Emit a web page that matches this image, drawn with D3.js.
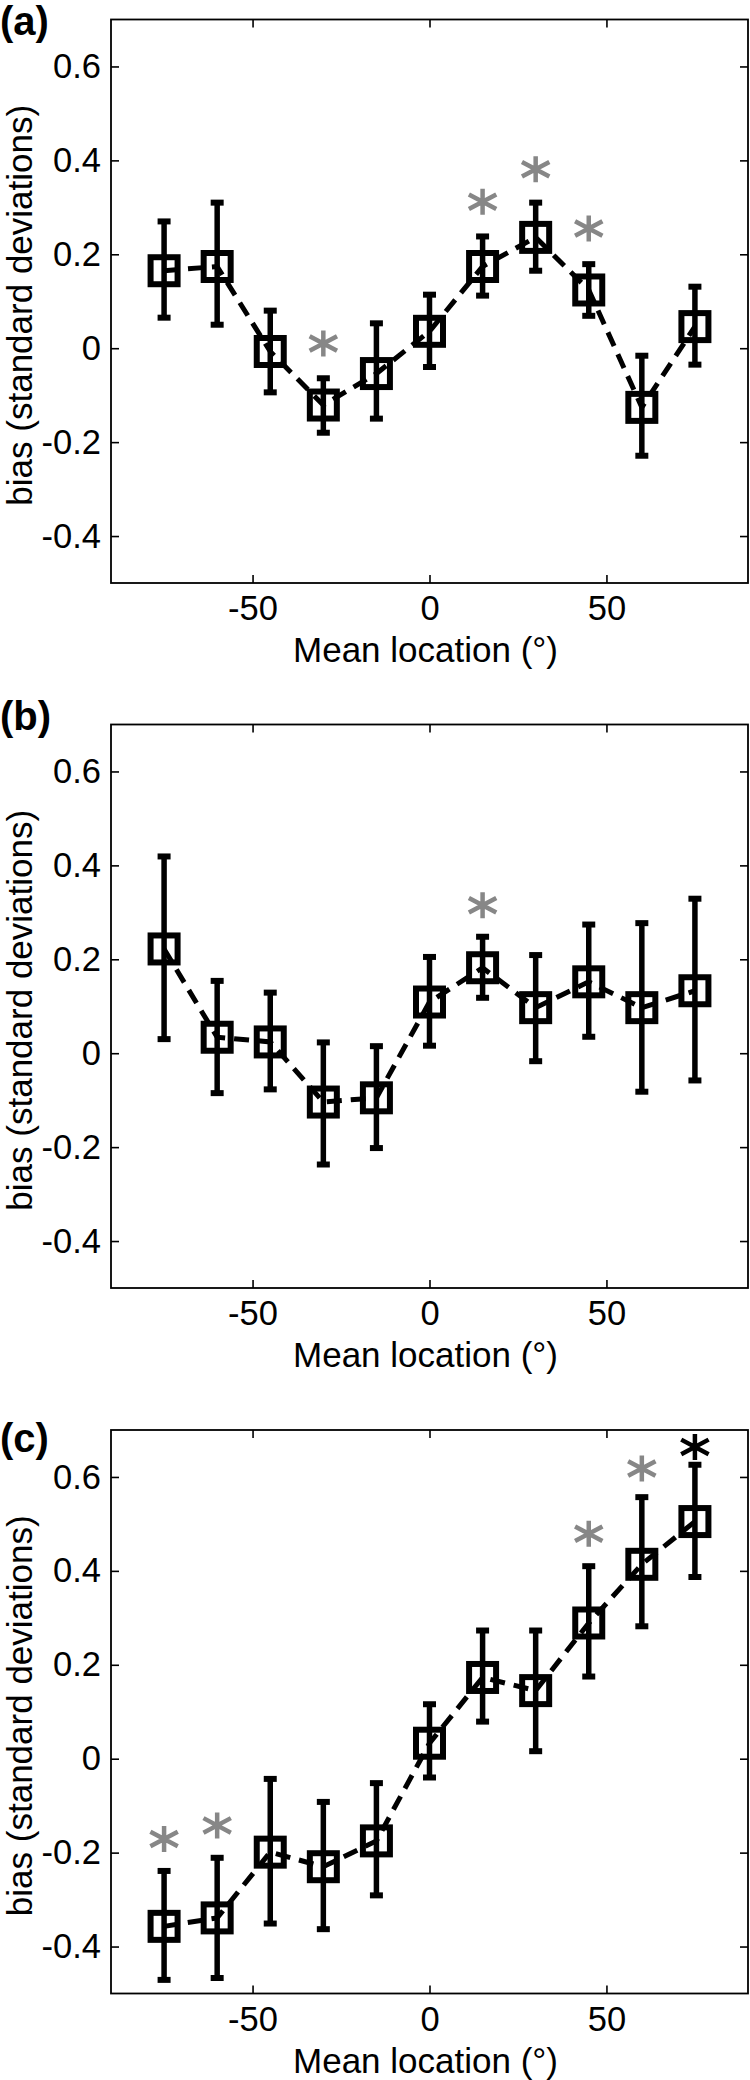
<!DOCTYPE html>
<html>
<head>
<meta charset="utf-8">
<script src="https://cdn.jsdelivr.net/npm/d3@7"></script>
<style>
body { margin: 0; background: white; }
</style>
</head>
<body>
<script>
//Data
var locations = [-75, -60, -45, -30, -15, 0, 15, 30, 45, 60, 75];

var biasA  = [0.165, 0.174, -0.007, -0.121, -0.054, 0.036, 0.174, 0.236, 0.124, -0.126, 0.046];
var upperA = [0.27, 0.31, 0.08, -0.064, 0.053, 0.114, 0.238, 0.31, 0.179, -0.016, 0.131];
var lowerA = [0.065, 0.05, -0.094, -0.18, -0.15, -0.04, 0.112, 0.165, 0.069, -0.229, -0.035];
var starXA = [-30, 15, 30, 45];
var starYA = [0.01, 0.312, 0.381, 0.255];
var starColA = ["gray", "gray", "gray", "gray"];

var biasB  = [0.222, 0.034, 0.024, -0.104, -0.095, 0.109, 0.182, 0.097, 0.152, 0.097, 0.133];
var upperB = [0.419, 0.154, 0.129, 0.023, 0.015, 0.205, 0.248, 0.209, 0.274, 0.277, 0.329];
var lowerB = [0.03, -0.085, -0.077, -0.237, -0.202, 0.016, 0.118, -0.017, 0.035, -0.082, -0.058];
var starXB = [15];
var starYB = [0.315];
var starColB = ["gray"];

var biasC  = [-0.357, -0.339, -0.199, -0.23, -0.175, 0.033, 0.173, 0.145, 0.289, 0.414, 0.505];
var upperC = [-0.239, -0.211, -0.043, -0.092, -0.052, 0.116, 0.273, 0.273, 0.41, 0.557, 0.626];
var lowerC = [-0.471, -0.467, -0.351, -0.363, -0.291, -0.04, 0.079, 0.016, 0.175, 0.282, 0.387];
var starXC = [-75, -60, 45, 60, 75];
var starYC = [-0.171, -0.142, 0.479, 0.618, 0.664];
var starColC = ["gray", "gray", "gray", "gray", "black"];

var xTicks = [-50, 0, 50];
var xTickLabels = ["-50", "0", "50"];
var yTicks = [-0.4, -0.2, 0, 0.2, 0.4, 0.6];
var yTickLabels = ["-0.4", "-0.2", "0", "0.2", "0.4", "0.6"];
var panelNames = ["(a)", "(b)", "(c)"];
var xLabel = "Mean location (\u00b0)";
var yLabel = "bias (standard deviations)";

//Parameters
var w = 750;
var h = 2080;
var font = "'Liberation Sans', Arial, Helvetica, sans-serif";
var plotLeft = 111;
var plotRight = 748;
var plotHeight = 563.5;
var panelTops = [19.5, 724.5, 1430];
var nameBaselines = [35, 730, 1452];
var tickLen = 8;
var tickFont = 34.5;
var labelFont = 35;
var starGray = "#878787";

var panels = [
    {bias: biasA, upper: upperA, lower: lowerA, sx: starXA, sy: starYA, sc: starColA},
    {bias: biasB, upper: upperB, lower: lowerB, sx: starXB, sy: starYB, sc: starColB},
    {bias: biasC, upper: upperC, lower: lowerC, sx: starXC, sy: starYC, sc: starColC}
];

var svg = d3.select("body").append("svg")
    .attr("width", w)
    .attr("height", h)
    .style("display", "block");

svg.append("rect")
    .attr("width", w)
    .attr("height", h)
    .attr("fill", "white");

var x = d3.scaleLinear().domain([-90, 90]).range([plotLeft, plotRight]);

panels.forEach(function (p, k) {
    var top = panelTops[k];
    var bottom = top + plotHeight;
    var y = d3.scaleLinear().domain([-0.5, 0.7]).range([bottom, top]);
    var g = svg.append("g");

    //Panel letter
    g.append("text")
        .attr("x", 0)
        .attr("y", nameBaselines[k])
        .attr("font-family", font)
        .attr("font-weight", "bold")
        .attr("font-size", 40)
        .text(panelNames[k]);

    //Axes with inward ticks on all four sides
    var bottomAxis = g.append("g")
        .attr("transform", "translate(0," + bottom + ")")
        .call(d3.axisBottom(x).tickValues(xTicks).tickSizeInner(-tickLen).tickSizeOuter(0)
            .tickFormat(function (d, i) { return xTickLabels[i]; }));
    bottomAxis.selectAll("text")
        .attr("y", 37)
        .attr("dy", null)
        .attr("font-size", tickFont);

    var leftAxis = g.append("g")
        .attr("transform", "translate(" + plotLeft + ",0)")
        .call(d3.axisLeft(y).tickValues(yTicks).tickSizeInner(-tickLen).tickSizeOuter(0)
            .tickFormat(function (d, i) { return yTickLabels[i]; }));
    leftAxis.selectAll("text")
        .attr("x", -10)
        .attr("font-size", tickFont);

    g.append("g")
        .attr("transform", "translate(0," + top + ")")
        .call(d3.axisTop(x).tickValues(xTicks).tickSizeInner(-tickLen).tickSizeOuter(0).tickFormat(""));
    g.append("g")
        .attr("transform", "translate(" + plotRight + ",0)")
        .call(d3.axisRight(y).tickValues(yTicks).tickSizeInner(-tickLen).tickSizeOuter(0).tickFormat(""));

    g.selectAll(".domain").remove();
    g.selectAll(".tick line").attr("stroke", "black").attr("stroke-width", 1.6);
    g.selectAll(".tick text").attr("font-family", font).attr("fill", "black");

    g.append("rect")
        .attr("x", plotLeft)
        .attr("y", top)
        .attr("width", plotRight - plotLeft)
        .attr("height", plotHeight)
        .attr("fill", "none")
        .attr("stroke", "black")
        .attr("stroke-width", 1.8);

    //Axis labels
    g.append("text")
        .attr("x", (plotLeft + plotRight) / 2 - 4)
        .attr("y", bottom + 79)
        .attr("text-anchor", "middle")
        .attr("font-family", font)
        .attr("font-size", labelFont)
        .text(xLabel);

    g.append("text")
        .attr("transform", "translate(32," + (top + plotHeight / 2 + 4) + ") rotate(-90)")
        .attr("text-anchor", "middle")
        .attr("font-family", font)
        .attr("font-size", labelFont)
        .text(yLabel);

    //Dashed line through the means
    var pts = locations.map(function (d, i) { return [x(d), y(p.bias[i])]; });
    g.append("path")
        .attr("d", d3.line()(pts))
        .attr("fill", "none")
        .attr("stroke", "black")
        .attr("stroke-width", 5)
        .attr("stroke-dasharray", "15,9");

    //Error bars
    locations.forEach(function (d, i) {
        var cx = x(d);
        g.append("line")
            .attr("x1", cx).attr("x2", cx)
            .attr("y1", y(p.upper[i])).attr("y2", y(p.lower[i]))
            .attr("stroke", "black")
            .attr("stroke-width", 5.5);
        [p.upper[i], p.lower[i]].forEach(function (v) {
            g.append("line")
                .attr("x1", cx - 6.5).attr("x2", cx + 6.5)
                .attr("y1", y(v)).attr("y2", y(v))
                .attr("stroke", "black")
                .attr("stroke-width", 6);
        });
    });

    //Square markers
    g.selectAll(".marker")
        .data(locations)
        .enter().append("rect")
        .attr("x", function (d) { return x(d) - 13.5; })
        .attr("y", function (d, i) { return y(p.bias[i]) - 13.5; })
        .attr("width", 27)
        .attr("height", 27)
        .attr("fill", "none")
        .attr("stroke", "black")
        .attr("stroke-width", 6);

    //Significance stars
    p.sx.forEach(function (d, i) {
        var cx = x(d), cy = y(p.sy[i]);
        var a = 28 * Math.PI / 180;
        var dx = 15.5 * Math.cos(a), dy = 15.5 * Math.sin(a);
        var star = "M" + cx + "," + (cy - 13) + "L" + cx + "," + (cy + 13) +
            "M" + (cx - dx) + "," + (cy - dy) + "L" + (cx + dx) + "," + (cy + dy) +
            "M" + (cx - dx) + "," + (cy + dy) + "L" + (cx + dx) + "," + (cy - dy);
        g.append("path")
            .attr("d", star)
            .attr("fill", "none")
            .attr("stroke", p.sc[i] == "gray" ? starGray : "black")
            .attr("stroke-width", 4.5);
    });
});
</script>
</body>
</html>
